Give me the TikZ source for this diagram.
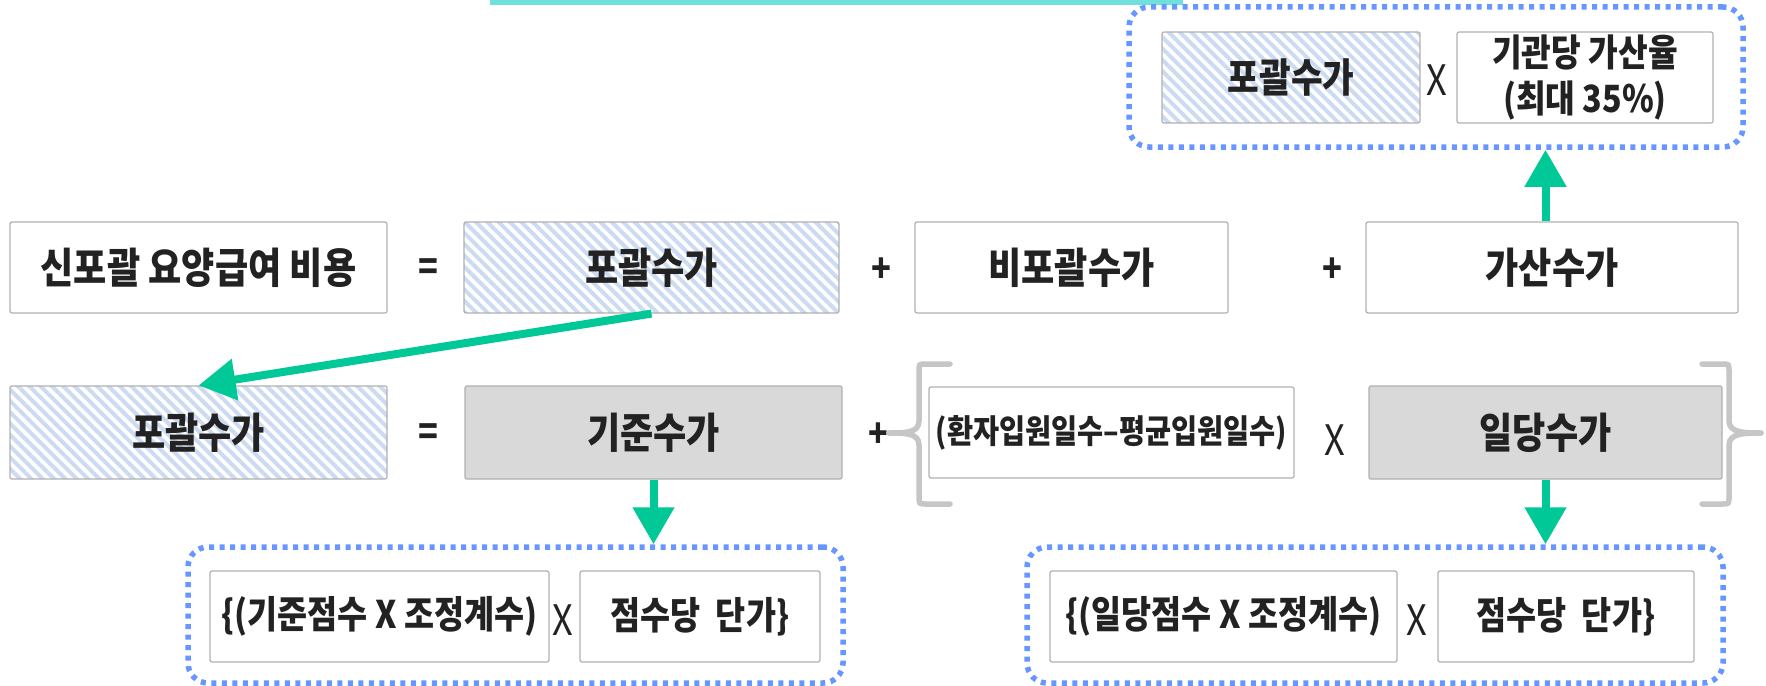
\documentclass[tikz,border=0pt]{standalone}
\usepackage{fontspec}
\setmainfont{Noto Sans CJK KR}[FakeStretch=0.86]
\usetikzlibrary{arrows.meta,patterns.meta}
\definecolor{arrowc}{HTML}{00C896}
\definecolor{boxline}{HTML}{B0B0B0}
\definecolor{grayfill}{HTML}{D9D9D9}
\definecolor{hatchc}{HTML}{CCDBF1}
\definecolor{dotc}{HTML}{6696FF}
\definecolor{bracec}{HTML}{C6C6C6}
\definecolor{txt}{HTML}{222222}
\definecolor{topbar}{HTML}{70E0DC}
\tikzset{
  box/.style={draw=boxline, line width=1.2pt, rounded corners=2pt, inner sep=0pt,
    minimum height=91pt, text=txt, font=\fontsize{42}{46}\selectfont\bfseries, align=center},
  hatched/.style={pattern={Lines[angle=-45,distance=8pt,line width=4pt]}, pattern color=hatchc},
  grayed/.style={fill=grayfill},
  dotbox/.style={draw=dotc, line width=5.5pt, dash pattern=on 5pt off 5.5pt, rounded corners=20pt,
    inner sep=0pt},
  op/.style={text=txt, inner sep=0pt, font=\fontsize{38}{42}\selectfont\bfseries},
  xop/.style={text=txt, inner sep=0pt, font=\fontsize{42}{46}\selectfont},
  arr/.style={draw=arrowc, line width=8pt, -{Triangle[width=40pt,length=37pt]}, arrowc},
  bracel/.style={draw=bracec, line width=5.5pt, line cap=round}
}
\begin{document}
\begin{tikzpicture}[x=1pt,y=-1pt]
\useasboundingbox (0,0) rectangle (1766,685);
\fill[topbar] (490,0) rectangle (1183,5);

% top right group
\node[dotbox, minimum width=614pt, minimum height=140pt] (TR) at (1436,77) {};
\node[box, hatched, minimum width=258pt, font=\fontsize{40}{44}\selectfont\bfseries] (T1) at (1291,77.5) {포괄수가};
\node[xop] (tx) at (1437,80) {X};
\node[box, minimum width=256pt, font=\fontsize{37.5}{46}\selectfont\bfseries] (T2) at (1585,77.5) {기관당 가산율\\(최대 35\%)};

% row 1
\node[box, minimum width=377pt] (B1) at (198.5,267.5) {신포괄 요양급여 비용};
\node[op] (eq1) at (428,270) {=};
\node[box, hatched, minimum width=375pt] (B2) at (651.5,267.5) {포괄수가};
\node[op] (p1) at (881,270) {+};
\node[box, minimum width=313pt] (B3) at (1071.5,267.5) {비포괄수가};
\node[op] (p2) at (1332,270) {+};
\node[box, minimum width=372pt] (B4) at (1552,267.5) {가산수가};

% row 2
\node[box, hatched, minimum width=377pt, minimum height=93pt] (C1) at (198.5,432.5) {포괄수가};
\node[op] (eq2) at (428,435) {=};
\node[box, grayed, minimum width=377pt, minimum height=93pt] (C2) at (653.5,432.5) {기준수가};
\node[op] (p3) at (878,435) {+};
\node[box, minimum width=365pt, font=\fontsize{33}{38}\selectfont\bfseries] (D1) at (1111.5,432.5) {(환자입원일수–평균입원일수)};
\node[xop] (dx) at (1335,440) {X};
\node[box, grayed, minimum width=353pt, minimum height=93pt] (D2) at (1545.5,432.5) {일당수가};

% braces
\draw[bracel] (950,364) -- (926,364) .. controls (919,364) .. (919,372) -- (919,421)
  .. controls (919,433) and (905,433) .. (889,433);
\draw[bracel] (950,504) -- (926,504) .. controls (919,504) .. (919,496) -- (919,445)
  .. controls (919,433) and (905,433) .. (889,433);
\draw[bracel] (1702,364) -- (1722,364) .. controls (1729,364) .. (1729,372) -- (1729,421)
  .. controls (1729,433) and (1745,433) .. (1761,433);
\draw[bracel] (1702,504) -- (1722,504) .. controls (1729,504) .. (1729,496) -- (1729,445)
  .. controls (1729,433) and (1745,433) .. (1761,433);

% bottom groups
\node[dotbox, minimum width=655pt, minimum height=136pt] (BL) at (515.5,615) {};
\node[box, minimum width=339pt, font=\fontsize{38}{42}\selectfont\bfseries] (E1) at (379.5,616.5) {\{(기준점수 X 조정계수)};
\node[xop] (ex) at (563,620) {X};
\node[box, minimum width=240pt, font=\fontsize{38}{42}\selectfont\bfseries] (E2) at (700,616.5) {점수당\ \ 단가\}};

\node[dotbox, minimum width=696pt, minimum height=136pt] (BR) at (1375,615) {};
\node[box, minimum width=347pt, font=\fontsize{38}{42}\selectfont\bfseries] (F1) at (1223.5,616.5) {\{(일당점수 X 조정계수)};
\node[xop] (fx) at (1417,620) {X};
\node[box, minimum width=256pt, font=\fontsize{38}{42}\selectfont\bfseries] (F2) at (1566,616.5) {점수당\ \ 단가\}};

% arrows
\draw[arr] (D2.center |- B4.north) -- (D2.center |- TR.south);
\draw[arr] (B2.south) -- (C1.north);
\draw[arr] (C2.south) -- (C2.south |- BL.north);
\draw[arr] (D2.south) -- (D2.south |- BR.north);
\end{tikzpicture}
\end{document}
